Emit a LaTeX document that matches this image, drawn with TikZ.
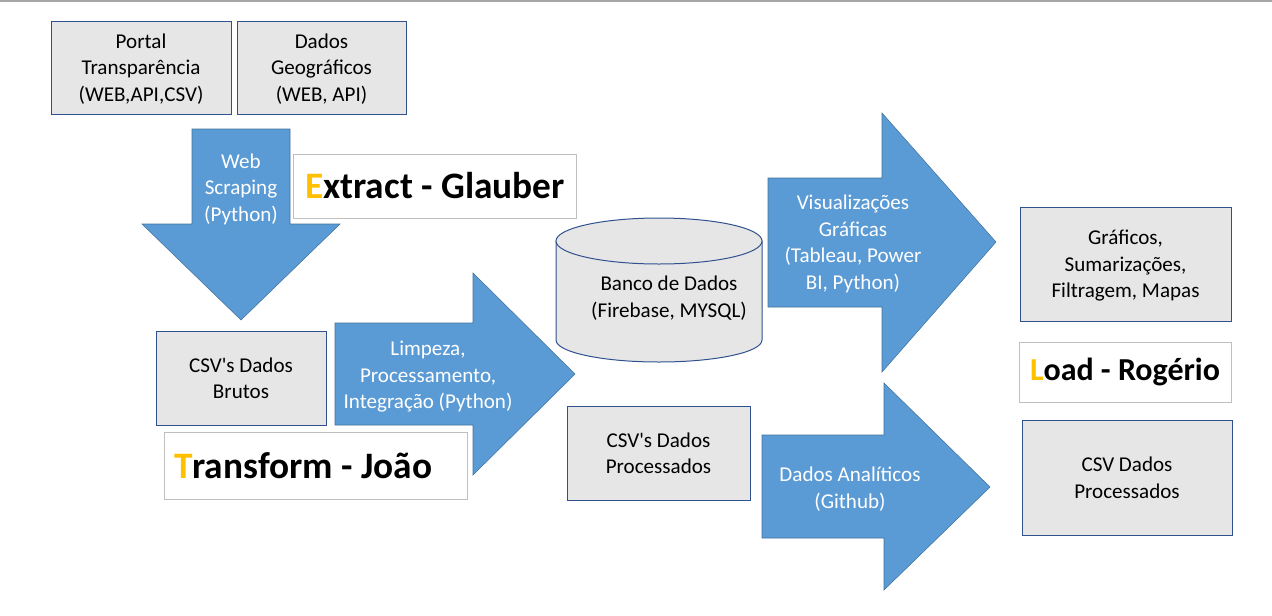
\documentclass[tikz,border=0pt]{standalone}
\usepackage{fontspec}
\setmainfont{Carlito}
\usepackage{tikz}
\definecolor{arrowblue}{HTML}{5B9BD5}
\definecolor{arrowedge}{HTML}{41719C}
\definecolor{boxfill}{HTML}{E7E6E6}
\definecolor{boxedge}{HTML}{2F528F}
\definecolor{tagedge}{HTML}{BFBFBF}
\definecolor{initial}{HTML}{FFC000}
\newcommand{\boxfont}{\fontsize{15.8}{19.9}\selectfont}
\newcommand{\tagfont}[1]{\fontsize{#1}{#1}\selectfont\bfseries}
\newcommand{\ini}[1]{{\color{initial}#1}}
\newcommand{\q}{\textquotesingle}
\tikzset{
  databox/.style={draw=boxedge, fill=boxfill, line width=0.75pt, align=center, font=\boxfont, inner sep=0pt, text depth=0pt},
  tagbox/.style={draw=tagedge, fill=white, line width=0.75pt, inner ysep=0pt},
  blockarrow/.style={fill=arrowblue, draw=arrowedge, line width=0.4pt},
  arrowtext/.style={align=center, font=\boxfont, text=white, yshift=-1.5pt}
}

\begin{document}
\begin{tikzpicture}[x=0.75pt, y=-0.75pt]
\useasboundingbox (0,0) rectangle (1272,615);
\draw [gray!70, line width=1.1pt] (0,1) -- (1272,1);
\draw [blockarrow] (192,129) -- (290,129) -- (290,224) -- (340,224) -- (241,320) -- (142,224) -- (192,224) -- cycle;
\draw [blockarrow] (335,323) -- (473,323) -- (473,273) -- (575,374) -- (473,475) -- (473,425) -- (335,425) -- cycle;
\draw [blockarrow] (768,178) -- (882,178) -- (882,113) -- (996,242) -- (882,372) -- (882,307) -- (768,307) -- cycle;
\draw [blockarrow] (762,435) -- (884,435) -- (884,383) -- (990,487) -- (884,590) -- (884,538) -- (762,538) -- cycle;
\filldraw [fill=boxfill, draw=boxedge, line width=0.75pt] (556,241) -- (556,340) arc[start angle=180, end angle=0, x radius=103, y radius=22] -- (762,241) -- cycle;
\filldraw [fill=boxfill, draw=boxedge, line width=0.75pt] (659,241) ellipse [x radius=103, y radius=23];
\node (portal) [databox, minimum width=135pt, minimum height=69.75pt] at (141,67.5) {Portal\\Transparência\\(WEB,API,CSV)};
\node (geo) [databox, minimum width=126.75pt, minimum height=69.75pt] at (321.5,67.5) {Dados\\Geográficos\\(WEB, API)};
\node (brutos) [databox, minimum width=127.5pt, minimum height=70.5pt] at (241,378) {CSV\q s Dados\\Brutos};
\node (proc) [databox, minimum width=137.25pt, minimum height=70.5pt] at (658.5,453) {CSV\q s Dados\\Processados};
\node (graf) [databox, minimum width=158.25pt, minimum height=85.5pt] at (1125.5,264) {Gráficos,\\Sumarizações,\\Filtragem, Mapas};
\node (csvout) [databox, minimum width=157.5pt, minimum height=86.25pt] at (1127,477.5) {CSV Dados\\Processados};
\node (db) [align=center, font=\boxfont, yshift=-1.5pt] at (669,296) {Banco de Dados\\(Firebase, MYSQL)};
\node (extract) [tagbox, font=\tagfont{28}, minimum width=212.25pt, minimum height=48pt] at (435,186) {\ini{E}xtract - Glauber};
\node (transform) [tagbox, font=\tagfont{28}, align=flush left, inner xsep=7.5pt, text width=212.25pt, minimum height=50.25pt] at (315.5,465.5) {\ini{T}ransform - João};
\node (load) [tagbox, font=\tagfont{24}, minimum width=159pt, minimum height=45pt] at (1125,372) {\ini{L}oad - Rogério};
\node (scrap) [arrowtext] at (241,187) {Web\\Scraping\\(Python)};
\node (limpeza) [arrowtext] at (428,375) {Limpeza,\\Processamento,\\Integração (Python)};
\node (visual) [arrowtext] at (853,242) {Visualizações\\Gráficas\\(Tableau, Power\\BI, Python)};
\node (analit) [arrowtext] at (850,487) {Dados Analíticos\\(Github)};
\end{tikzpicture}
\end{document}
